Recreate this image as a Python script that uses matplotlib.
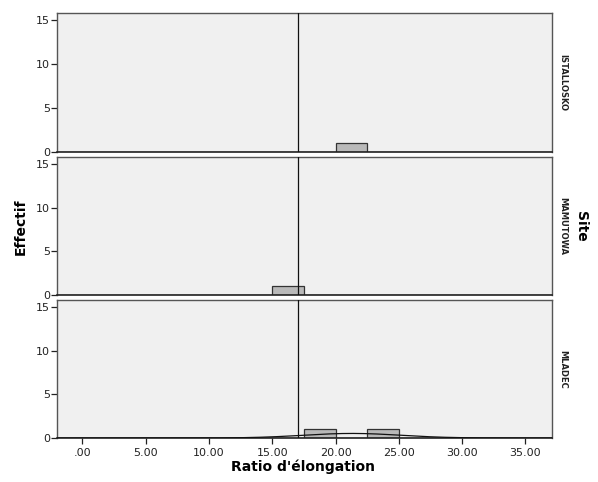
import matplotlib
matplotlib.use("Agg")
import matplotlib.pyplot as plt
import numpy as np

# data
sites = ["ISTALLOSKO", "MAMUTOWA", "MLADEC"]
ratios = {
    "ISTALLOSKO": [21.2],
    "MAMUTOWA": [16.3],
    "MLADEC": [18.6, 24.0],
}
bin_edges = np.arange(-2.5, 40.0, 2.5)
ref_line = 17.0
x_ticks = [0, 5, 10, 15, 20, 25, 30, 35]
x_tick_labels = [".00", "5.00", "10.00", "15.00", "20.00", "25.00", "30.00", "35.00"]
y_ticks = [0, 5, 10, 15]

plt.rcParams["font.family"] = ["DejaVu Sans"]

fig = plt.figure(figsize=(5.98, 4.82), dpi=100)
fig.patch.set_facecolor("white")

left, width = 57 / 598, 495 / 598
panel_px = [(13, 152), (157, 295), (300, 438)]

for i, site in enumerate(sites):
    top, bot = panel_px[i]
    ax = fig.add_axes([left, 1 - bot / 482, width, (bot - top) / 482])
    ax.set_facecolor("#f0f0f0")
    vals = np.array(ratios[site])
    ax.hist(vals, bins=bin_edges, color="#b9b9b9", edgecolor="#333333", linewidth=0.9, zorder=2)

    # normal curve only drawn where there are at least 2 values
    if len(vals) > 1:
        mu, sd = vals.mean(), vals.std(ddof=1)
        xs = np.linspace(-2, 37.1, 400)
        ys = len(vals) * 2.5 / (sd * np.sqrt(2 * np.pi)) * np.exp(-0.5 * ((xs - mu) / sd) ** 2)
        ax.plot(xs, ys, color="#111111", linewidth=0.9, zorder=3)

    ax.axvline(ref_line, color="#111111", linewidth=0.9, zorder=4)
    ax.set_xlim(-2, 37.1)
    ax.set_ylim(0, 15.8)
    ax.set_yticks(y_ticks)
    ax.tick_params(axis="y", direction="out", length=4, width=0.9, labelsize=8, pad=1, colors="#222222")
    if i == len(sites) - 1:
        ax.set_xticks(x_ticks)
        ax.set_xticklabels(x_tick_labels)
        ax.tick_params(axis="x", direction="out", length=4, width=0.9, labelsize=8, pad=3, colors="#222222")
    else:
        ax.set_xticks([])
    for name, sp in ax.spines.items():
        sp.set_color("#555555")
        sp.set_linewidth(1.0)
    ax.spines["bottom"].set_color("#222222")
    ax.spines["bottom"].set_linewidth(1.2)
    ax.text(1.012, 0.5, site, transform=ax.transAxes, rotation=-90, ha="left", va="center",
            fontsize=6, fontweight="bold", color="#222222")

fig.text(0.035, 0.53, "Effectif", rotation=90, ha="center", va="center", fontsize=10, fontweight="bold")
fig.text(0.972, 0.53, "Site", rotation=-90, ha="center", va="center", fontsize=10, fontweight="bold")
fig.text(0.507, 0.031, "Ratio d'élongation", ha="center", va="center", fontsize=10, fontweight="bold")

fig.savefig("out.png", dpi=100)
